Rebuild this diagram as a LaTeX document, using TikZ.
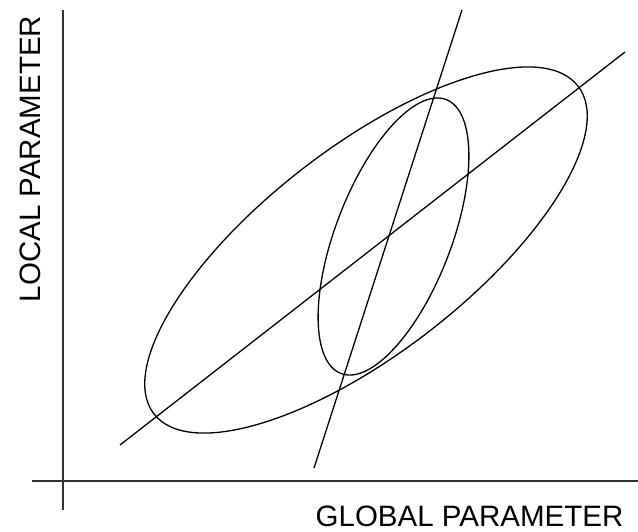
\documentclass[tikz,border=0pt]{standalone}
\usepackage{fontspec}
\setmainfont{Liberation Sans}
\begin{document}
\begin{tikzpicture}[x=1pt,y=1pt,
  axisline/.style={line width=1.8pt,draw=black!80},
  curve/.style={line width=1.3pt,draw=black},
  lbl/.style={inner sep=0pt,font=\fontsize{29.5}{35}\selectfont}]
\useasboundingbox (0,0) rectangle (638,531);
% axes
\coordinate (ytop) at (63,521);
\coordinate (ybot) at (63,21);
\coordinate (xl) at (32,50);
\coordinate (xr) at (638,50);
\draw[axisline] (ybot) -- (ytop);
\draw[axisline] (xl) -- (xr);
% lines
\coordinate (la) at (120,86);
\coordinate (lb) at (625,479);
\coordinate (sa) at (314,63);
\coordinate (sb) at (462,521);
\draw[curve] (la) -- (lb);
\draw[curve] (sa) -- (sb);
% ellipses
\coordinate (c1) at (366,281);
\coordinate (c2) at (393.5,294.5);
\draw[curve,rotate around={37.7:(c1)}] (c1) ellipse [x radius=268pt, y radius=103pt];
\draw[curve,rotate around={69:(c2)}] (c2) ellipse [x radius=146.7pt, y radius=57.9pt];
% labels
\node[lbl,anchor=base] (gl) at (469.5,5) {GLOBAL PARAMETER};
\node[lbl,anchor=base,rotate=90] (ll) at (40,372) {LOCAL PARAMETER};
\end{tikzpicture}
\end{document}
